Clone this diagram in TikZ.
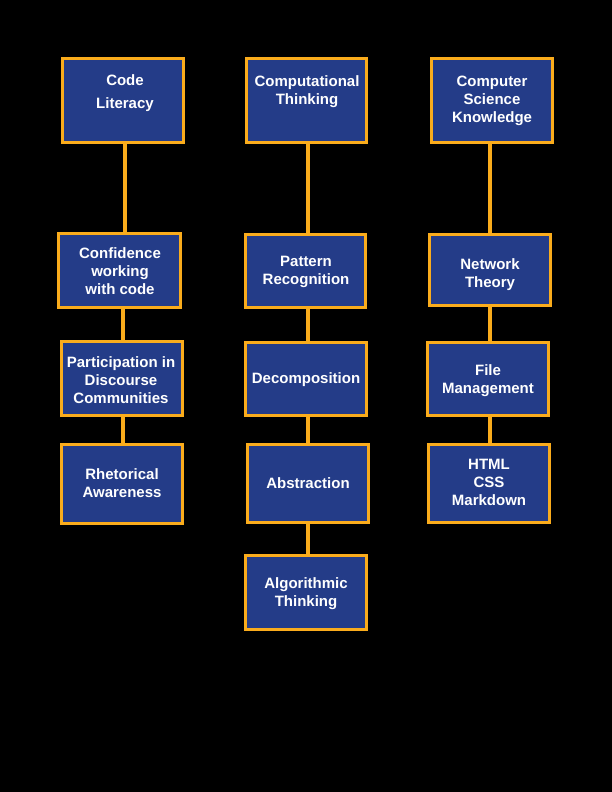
\documentclass[tikz,border=0pt]{standalone}
\usepackage{fontspec}
\setmainfont{Liberation Sans}
\definecolor{boxblue}{RGB}{36,60,136}
\definecolor{boxgold}{RGB}{250,172,28}
\begin{document}
\begin{tikzpicture}[x=1pt,y=-1pt,
  topic/.style={draw=boxgold, fill=boxblue, line width=3pt, rectangle, inner sep=0pt},
  caption/.style={text=white, font=\bfseries\fontsize{15}{18}\selectfont, align=center, inner sep=0pt},
  link/.style={draw=boxgold, line width=3.5pt}]
  % page background
  \fill[black] (0,0) rectangle (612,792);
  \useasboundingbox (0,0) rectangle (612,792);

  % boxes: centre, border-line width and height
  \newcommand{\topicbox}[5]{%
    \node[topic, minimum width=#4pt, minimum height=#5pt] (#1) at (#2,#3) {};}

  % left column
  \topicbox{lit}{123}{100.5}{121}{84}
  \topicbox{conf}{119.5}{270.5}{122}{74}
  \topicbox{part}{122}{378.5}{121}{74}
  \topicbox{rhet}{122}{484}{121}{79}
  % middle column
  \topicbox{ct}{306.5}{100.5}{120}{84}
  \topicbox{pat}{305.5}{271}{120}{73}
  \topicbox{dec}{306}{379}{121}{73}
  \topicbox{abs}{308}{483.5}{121}{78}
  \topicbox{alg}{306}{592.5}{121}{74}
  % right column
  \topicbox{csk}{492}{100.5}{121}{84}
  \topicbox{net}{490}{270}{121}{71}
  \topicbox{file}{488}{379}{121}{73}
  \topicbox{web}{489}{483.5}{121}{78}

  % connectors
  \draw[link] (lit.south -| 125,0) -- (conf.north -| 125,0);
  \draw[link] (conf.south -| 123,0) -- (part.north -| 123,0);
  \draw[link] (part.south -| 123,0) -- (rhet.north -| 123,0);
  \draw[link] (ct.south -| 308,0) -- (pat.north -| 308,0);
  \draw[link] (pat.south -| 308,0) -- (dec.north -| 308,0);
  \draw[link] (dec.south -| 308,0) -- (abs.north -| 308,0);
  \draw[link] (abs.south -| 308,0) -- (alg.north -| 308,0);
  \draw[link] (csk.south -| 490,0) -- (net.north -| 490,0);
  \draw[link] (net.south -| 490,0) -- (file.north -| 490,0);
  \draw[link] (file.south -| 490,0) -- (web.north -| 490,0);

  % captions
  \node[caption, font=\bfseries\fontsize{15}{22.6}\selectfont] (tlit) at (125,93) {Code\\Literacy};
  \node[caption] (tconf) at (120,271.5) {Confidence\\working\\with code};
  \node[caption] (tpart) at (121,380) {Participation in\\Discourse\\Communities};
  \node[caption] (trhet) at (122,483) {Rhetorical\\Awareness};
  \node[caption] (tct) at (307,91.5) {Computational\\Thinking};
  \node[caption] (tpat) at (306,271.5) {Pattern\\Recognition};
  \node[caption] (tdec) at (306,380) {Decomposition};
  \node[caption] (tabs) at (308,483) {Abstraction};
  \node[caption] (talg) at (306,594) {Algorithmic\\Thinking};
  \node[caption] (tcsk) at (492,100.5) {Computer\\Science\\Knowledge};
  \node[caption] (tnet) at (490,274.5) {Network\\Theory};
  \node[caption] (tfile) at (488,380.5) {File\\Management};
  \node[caption] (tweb) at (489,482.5) {HTML\\CSS\\Markdown};
\end{tikzpicture}
\end{document}
